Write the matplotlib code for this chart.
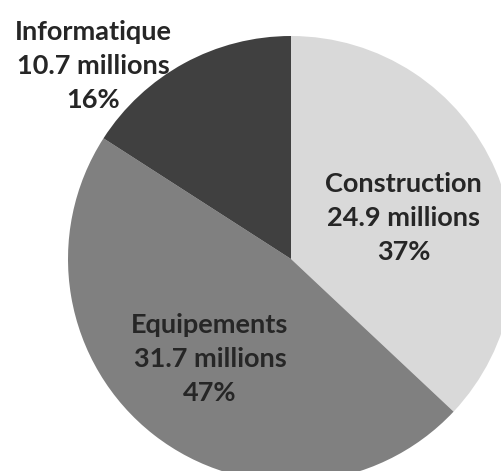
import matplotlib
matplotlib.use('Agg')
import matplotlib.pyplot as plt

# Data
categories = ['Construction', 'Equipements', 'Informatique']
amounts = [24.9, 31.7, 10.7]  # millions
percents = [37, 47, 16]
colors = ['#d9d9d9', '#808080', '#404040']

# label centres in pie units (radius 1)
label_pos = [(0.504, 0.182), (-0.363, -0.449), (-0.888, 0.865)]

plt.rcParams['font.family'] = ['Lato', 'DejaVu Sans']

fig = plt.figure(figsize=(5.02, 4.71), dpi=100)
ax = fig.add_axes([68 / 502, -11 / 471, 446 / 502, 446 / 471])

ax.pie(amounts, colors=colors, startangle=90, counterclock=False,
       radius=1, wedgeprops=dict(linewidth=0))
ax.set_xlim(-1, 1)
ax.set_ylim(-1, 1)
ax.axis('off')

for name, val, pct, (x, y) in zip(categories, amounts, percents, label_pos):
    ax.text(x, y, f'{name}\n{val} millions\n{pct}%', ha='center', va='center',
            fontsize=19.5, fontweight='bold', color='#262626', linespacing=1.5,
            clip_on=False)

fig.savefig('out.png', dpi=100)
